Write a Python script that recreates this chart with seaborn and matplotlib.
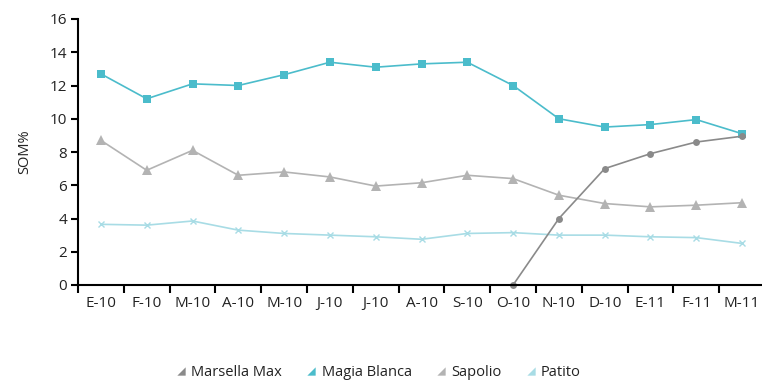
import numpy as np
import pandas as pd
import matplotlib
matplotlib.use("Agg")
import matplotlib.pyplot as plt
from matplotlib.lines import Line2D
import seaborn as sns

months = ["E-10", "F-10", "M-10", "A-10", "M-10", "J-10", "J-10", "A-10",
          "S-10", "O-10", "N-10", "D-10", "E-11", "F-11", "M-11"]

marsella_max = [np.nan] * 9 + [0.0, 4.0, 7.0, 7.9, 8.6, 8.95]
magia_blanca = [12.7, 11.2, 12.1, 12.0, 12.65, 13.4, 13.1, 13.3, 13.4,
                12.0, 10.0, 9.5, 9.65, 9.95, 9.1]
sapolio = [8.7, 6.9, 8.1, 6.6, 6.8, 6.5, 5.95, 6.15, 6.6,
           6.4, 5.4, 4.9, 4.7, 4.8, 4.95]
patito = [3.65, 3.6, 3.85, 3.3, 3.1, 3.0, 2.9, 2.75, 3.1,
          3.15, 3.0, 3.0, 2.9, 2.85, 2.5]

series = [
    ("Marsella Max", marsella_max, "#8a8a8a", "o", 5, 0),
    ("Magia Blanca", magia_blanca, "#4bbccb", "s", 5.5, 0),
    ("Sapolio", sapolio, "#b3b3b3", "^", 7, 0),
    ("Patito", patito, "#a8dce5", "x", 5, 1.0),
]

sns.set_theme(style="white")
plt.rcParams["font.family"] = ["Open Sans", "DejaVu Sans"]

fig = plt.figure(figsize=(7.62, 3.82), dpi=100)
W, H = 762, 382
ax = fig.add_axes([78 / W, (H - 285) / H, 687 / W, 266 / H])

pos = np.arange(len(months))
# draw back-to-front so the darker series sit on top
for name, vals, color, mk, ms, mew in reversed(series):
    df = pd.DataFrame({"x": pos, "y": vals}).dropna()
    sns.lineplot(data=df, x="x", y="y", ax=ax, color=color, marker=mk,
                 markersize=ms, markeredgewidth=mew if mk == "x" else 0,
                 markeredgecolor=color, linewidth=1.2, clip_on=False,
                 legend=False)

ax.set_xlim(-0.5, len(months) - 0.5)
ax.set_ylim(0, 16)
ax.set_yticks(np.arange(0, 17, 2))
ax.set_xticks(pos)
ax.set_xticklabels(months)
ax.set_xticks(np.arange(-0.5, len(months), 1), minor=True)
ax.tick_params(axis="x", which="major", length=0, pad=8, labelsize=11, labelcolor="#222222")
ax.tick_params(axis="x", which="minor", length=6, width=1.5, color="black", direction="out")
ax.tick_params(axis="y", length=5, width=1.5, color="black", direction="out",
               pad=3, labelsize=11, labelcolor="#222222")
ax.xaxis.set_ticks_position("bottom")
ax.yaxis.set_ticks_position("left")
for s in ["top", "right"]:
    ax.spines[s].set_visible(False)
for s in ["left", "bottom"]:
    ax.spines[s].set_color("black")
    ax.spines[s].set_linewidth(1.5)
ax.set_xlabel("")
ax.set_ylabel("SOM%", fontsize=10.5, color="#222222", labelpad=12)
ax.grid(False)

wedge = [(1, -1), (1, 1), (-1, -1), (1, -1)]
handles = [Line2D([], [], linestyle="none", marker=wedge, markersize=6,
                  color=c, markeredgewidth=0) for _, _, c, _, _, _ in series]
labels = [n for n, *_ in series]
fig.legend(handles, labels, loc="center", bbox_to_anchor=(378 / W, 1 - 373 / H),
           ncol=4, frameon=False, fontsize=10.5, handlelength=0.8,
           handletextpad=0.3, columnspacing=1.6, labelcolor="#222222")

fig.savefig("out.png", dpi=100)
